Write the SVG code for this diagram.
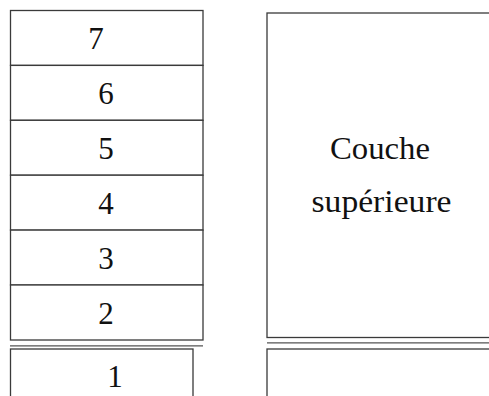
<svg xmlns="http://www.w3.org/2000/svg" width="489" height="396" viewBox="0 0 489 396">
  <style>
    .box { fill: #ffffff; stroke: #3a3a3a; stroke-width: 1.3; }
    .sep { stroke: #555555; stroke-width: 1.3; fill: none; }
    .lbl { font-family: "Liberation Serif", "DejaVu Serif", serif; font-size: 31px; fill: #111111; text-anchor: middle; }
    .big { font-size: 32px; }
  </style>
  <rect width="489" height="396" fill="#ffffff"/>

  <!-- Layer stack -->
  <g id="layer7"><rect class="box" x="10.5" y="10.5" width="192.5" height="54.9"/><text class="lbl" x="96" y="49">7</text></g>
  <g id="layer6"><rect class="box" x="10.5" y="65.4" width="192.5" height="54.9"/><text class="lbl" x="106" y="104">6</text></g>
  <g id="layer5"><rect class="box" x="10.5" y="120.3" width="192.5" height="54.9"/><text class="lbl" x="106" y="158.8">5</text></g>
  <g id="layer4"><rect class="box" x="10.5" y="175.2" width="192.5" height="54.9"/><text class="lbl" x="106" y="213.7">4</text></g>
  <g id="layer3"><rect class="box" x="10.5" y="230.1" width="192.5" height="54.9"/><text class="lbl" x="106" y="268.6">3</text></g>
  <g id="layer2"><rect class="box" x="10.5" y="285" width="192.5" height="55"/><text class="lbl" x="106" y="323.5">2</text></g>
  <g id="layer1"><rect class="box" x="10.5" y="349" width="182.5" height="60"/><text class="lbl" x="115" y="387">1</text></g>

  <!-- Upper layer block -->
  <g id="upper"><rect class="box" x="267" y="13" width="240" height="324.5"/>
    <text class="lbl big" x="380" y="159" textLength="100" lengthAdjust="spacingAndGlyphs">Couche</text>
    <text class="lbl big" x="381.5" y="212" textLength="140" lengthAdjust="spacingAndGlyphs">supérieure</text>
  </g>
  <g id="lower"><rect class="box" x="267" y="349" width="240" height="60"/></g>

  <!-- Boundary rules -->
  <g id="connectors">
    <line class="sep" x1="10" y1="345.8" x2="203" y2="345.8" stroke-width="2"/>
    <line class="sep" x1="267" y1="342.8" x2="489" y2="342.8" stroke="#222"/>
  </g>
</svg>
